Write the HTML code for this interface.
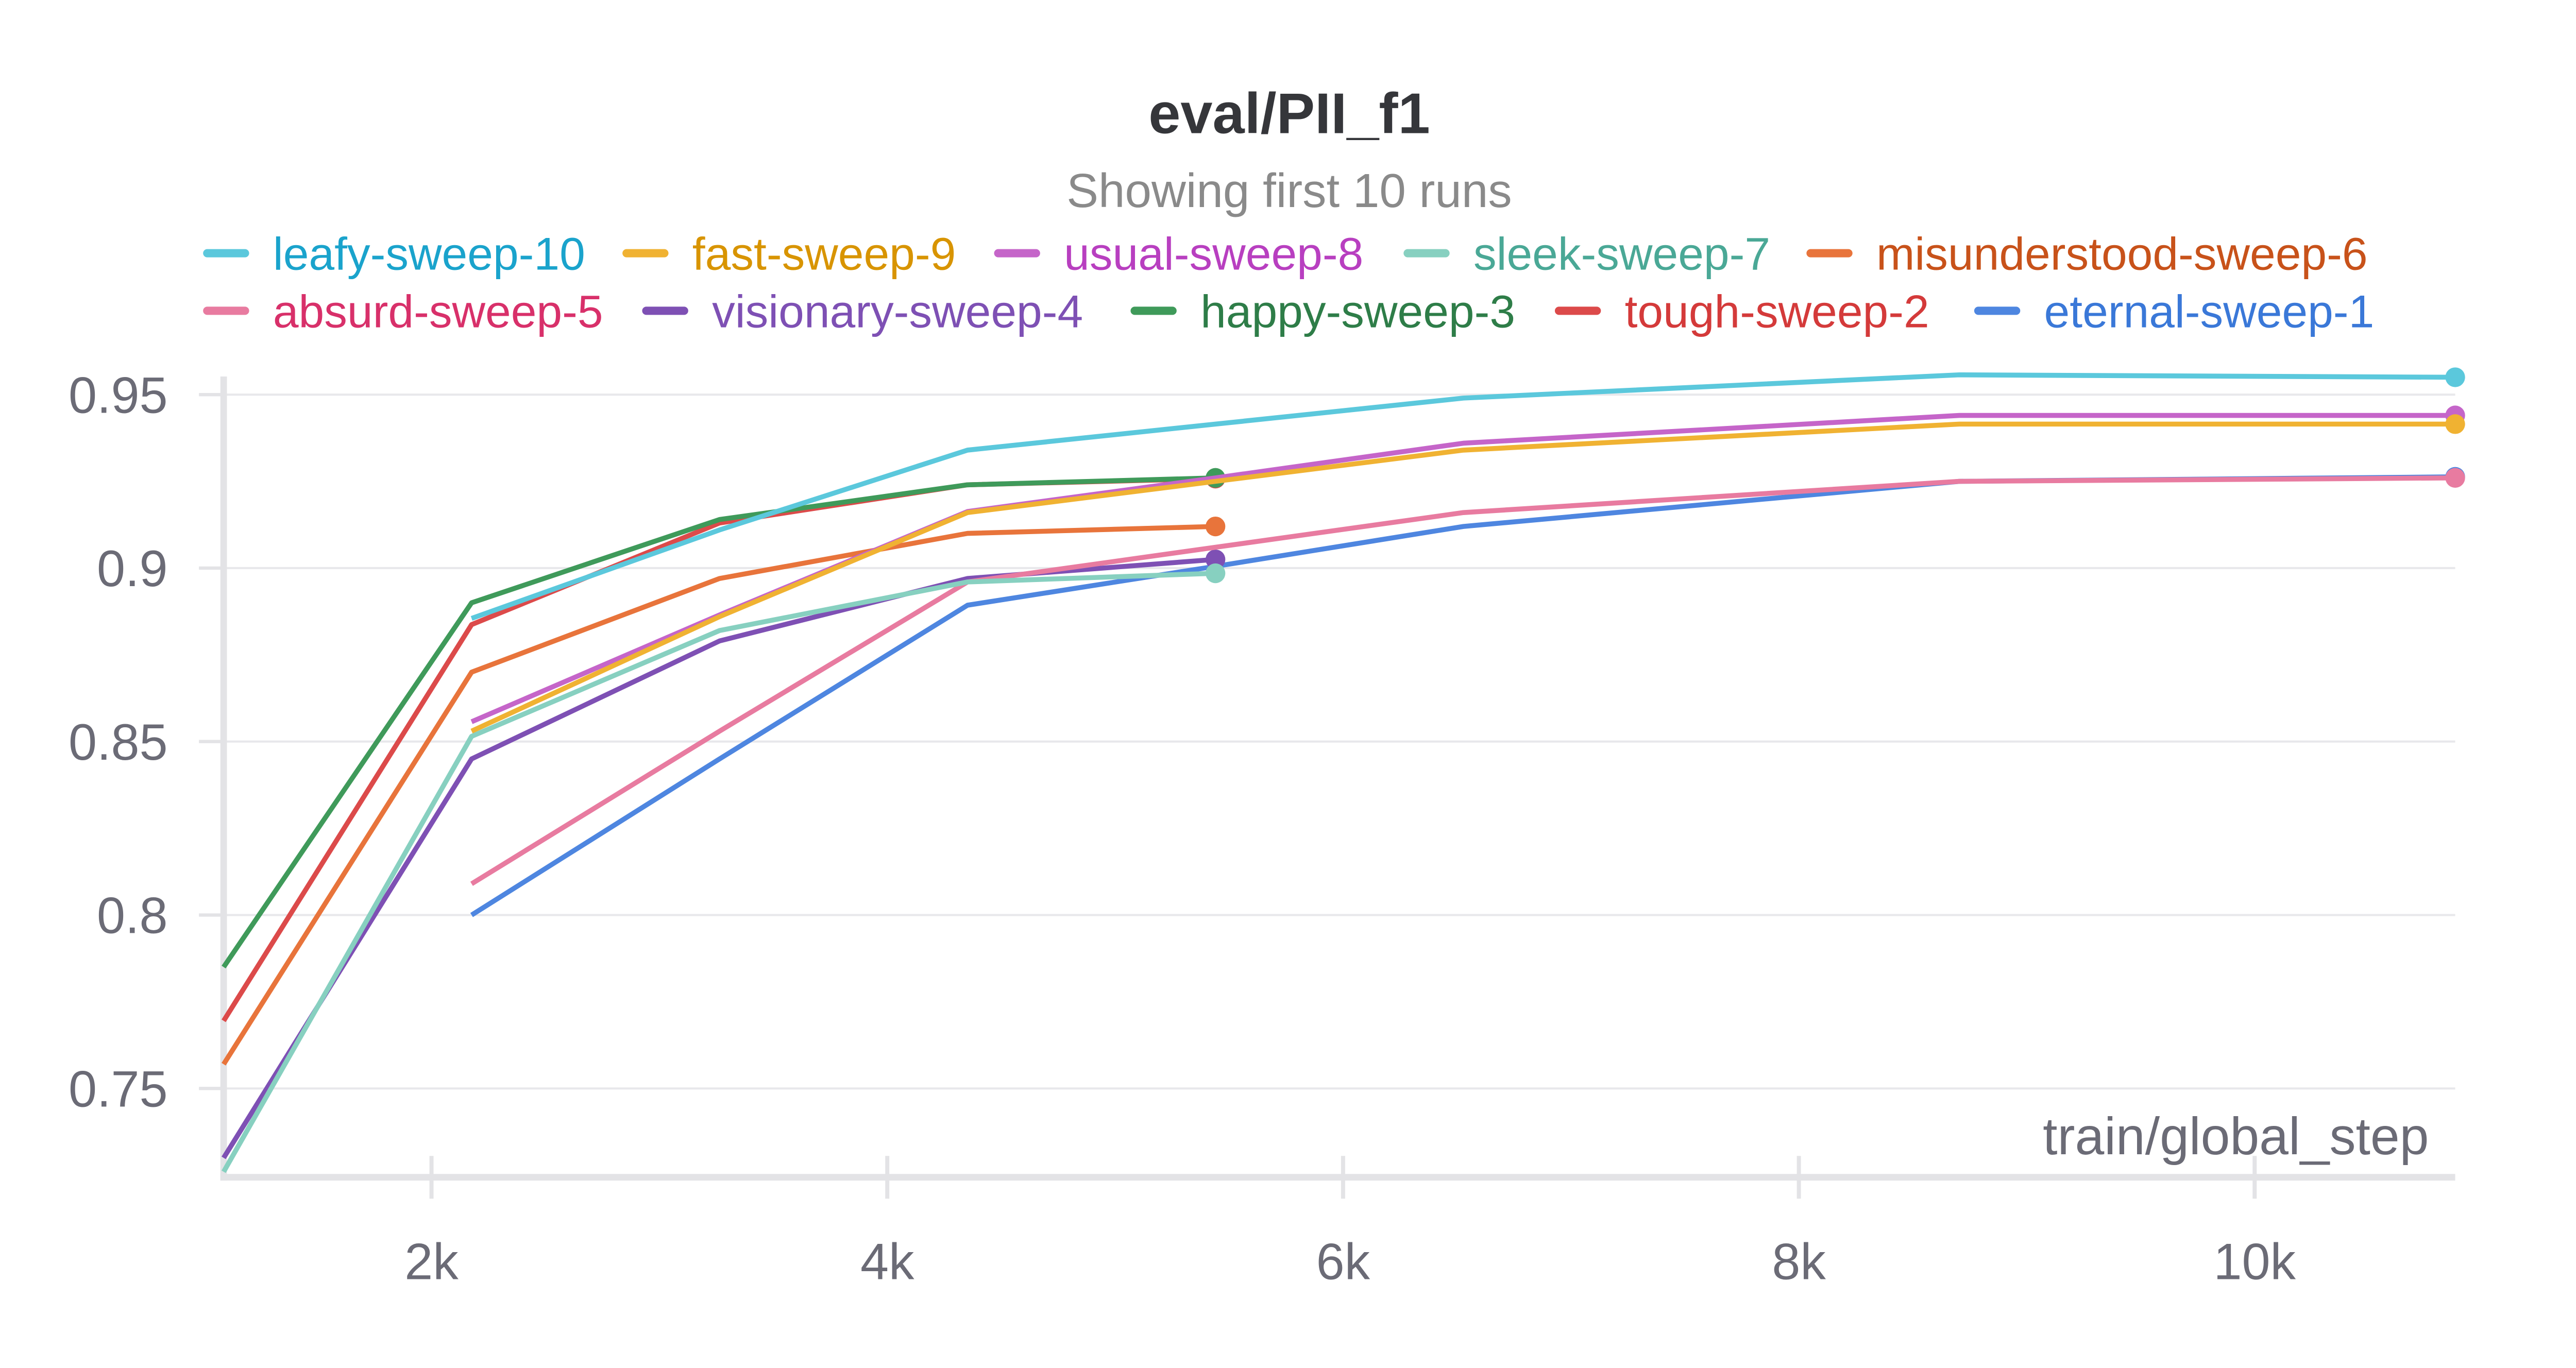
<!DOCTYPE html>
<html><head><meta charset="utf-8">
<style>
html,body{margin:0;padding:0;background:#fff;}
svg{display:block;}
text{font-family:"Liberation Sans",sans-serif;}
</style></head>
<body>
<svg id="chart" width="5056" height="2656" viewBox="0 0 1584 832" preserveAspectRatio="none" xmlns="http://www.w3.org/2000/svg">
<text x="784" y="81" text-anchor="middle" font-size="35" font-weight="bold" fill="#35363a">eval/PII_f1</text>
<text x="784" y="126" text-anchor="middle" font-size="29" fill="#8a8a8a">Showing first 10 runs</text>
<g id="legend"></g>
<g id="grid"></g>
<g id="axes"></g>
<g id="series"></g>
<text x="1477" y="702" text-anchor="end" font-size="32" fill="#6b6b76">train/global_step</text>
</svg>
<script>
const steps = [1088, 2176, 3264, 4352, 5440, 6528, 8704, 10880];
const runNames = ["leafy-sweep-10","fast-sweep-9","usual-sweep-8","sleek-sweep-7","misunderstood-sweep-6","absurd-sweep-5","visionary-sweep-4","happy-sweep-3","tough-sweep-2","eternal-sweep-1"];
const lineColors = ["#5bc8dc","#f0b232","#c565c9","#87d0c0","#e8743b","#e87ba0","#7e50b4","#3f9a5a","#dc4a4a","#4e86e0"];
const textColors = ["#1aa3cc","#d89400","#b83fc0","#4aa896","#c8521a","#d8306a","#7e50b4","#2e7d48","#d43a3a","#3a78d8"];
const leafy = [null,0.8855,0.911,0.934,0.9415,0.949,0.9557,0.955];
const fast = [null,0.853,0.886,0.916,0.925,0.934,0.9415,0.9415];
const usual = [null,0.8557,0.8865,0.9163,0.926,0.936,0.944,0.944];
const sleek = [0.726,0.8515,0.882,0.896,0.8985,null,null,null];
const misunderstood = [0.757,0.870,0.897,0.910,0.912,null,null,null];
const absurd = [null,0.809,0.853,0.896,0.906,0.916,0.925,0.926];
const visionary = [0.730,0.845,0.879,0.897,0.9025,null,null,null];
const happy = [0.785,0.890,0.914,0.924,0.926,null,null,null];
const tough = [0.7695,0.8837,0.913,0.924,0.9258,null,null,null];
const eternal = [null,0.800,0.845,0.8893,0.9005,0.912,0.925,0.9263];
const allSeries = [leafy,fast,usual,sleek,misunderstood,absurd,visionary,happy,tough,eternal];
const yTicks = [0.75,0.8,0.85,0.9,0.95];
const yTickLabels = ["0.75","0.8","0.85","0.9","0.95"];
const xTicks = [2000,4000,6000,8000,10000];
const xTickLabels = ["2k","4k","6k","8k","10k"];

const NS="http://www.w3.org/2000/svg";
const X0=136, X1=1493, S0=1088, S1=10880;
function xs(v){return X0+(v-S0)/(S1-S0)*(X1-X0);}
function ys(v){return 240+(0.95-v)*2110;}
function mk(tag,attrs,parent){const e=document.createElementNS(NS,tag);for(const k in attrs)e.setAttribute(k,attrs[k]);parent.appendChild(e);return e;}

const grid=document.getElementById('grid'), axes=document.getElementById('axes'), ser=document.getElementById('series'), leg=document.getElementById('legend');
const yBottom=716;
yTicks.forEach((t,i)=>{
  const g=mk('line',{x1:121,x2:1493,y1:ys(t),y2:ys(t),stroke:'#e8e8eb','stroke-width':1.3},grid);
  
  
  const tk=mk('line',{x1:121,x2:136,y1:ys(t),y2:ys(t),stroke:'#e3e3e6','stroke-width':2},axes);
  
  
  const l=mk('text',{x:102,y:ys(t)+11,'text-anchor':'end','font-size':31,fill:'#6b6b76'},axes);
  l.textContent=yTickLabels[i];
  
  
});
xTicks.forEach((t,i)=>{
  const tk=mk('line',{x1:xs(t),x2:xs(t),y1:yBottom-13,y2:yBottom+13,stroke:'#e3e3e6','stroke-width':2.5},axes);
  
  
  const l=mk('text',{x:xs(t),y:yBottom+62,'text-anchor':'middle','font-size':31,fill:'#6b6b76'},axes);
  l.textContent=xTickLabels[i];
  
  
});
const ya=mk('line',{x1:X0,x2:X0,y1:229,y2:yBottom+2,stroke:'#e3e3e6','stroke-width':4},axes);


const xa=mk('line',{x1:X0-2,x2:X1,y1:yBottom,y2:yBottom,stroke:'#e3e3e6','stroke-width':4},axes);



for(let s=allSeries.length-1;s>=0;s--){
  const vals=allSeries[s];
  const pts=[];let last=null;
  vals.forEach((v,i)=>{if(v!==null){pts.push(xs(steps[i]).toFixed(2)+','+ys(v).toFixed(2));last=[xs(steps[i]),ys(v)];}});
  const p=mk('polyline',{points:pts.join(' '),fill:'none',stroke:lineColors[s],'stroke-width':3,'stroke-linejoin':'round'},ser);
  
  
  const c=mk('circle',{cx:last[0],cy:last[1],r:6,fill:lineColors[s]},ser);
  
  
}
const legX=[[166,421,647,896,1141],[166,433,730,988,1243]];
const legY=[164,199];
runNames.forEach((n,i)=>{
  const r=Math.floor(i/5), c=i%5, x=legX[r][c], y=legY[r];
  const sw=mk('line',{x1:x-40,x2:x-17,y1:y-10,y2:y-10,stroke:lineColors[i],'stroke-width':5,'stroke-linecap':'round'},leg);
  
  
  const t=mk('text',{x:x,y:y,'font-size':28,fill:textColors[i]},leg);
  t.textContent=n;
  
  
});
</script>
</body></html>
